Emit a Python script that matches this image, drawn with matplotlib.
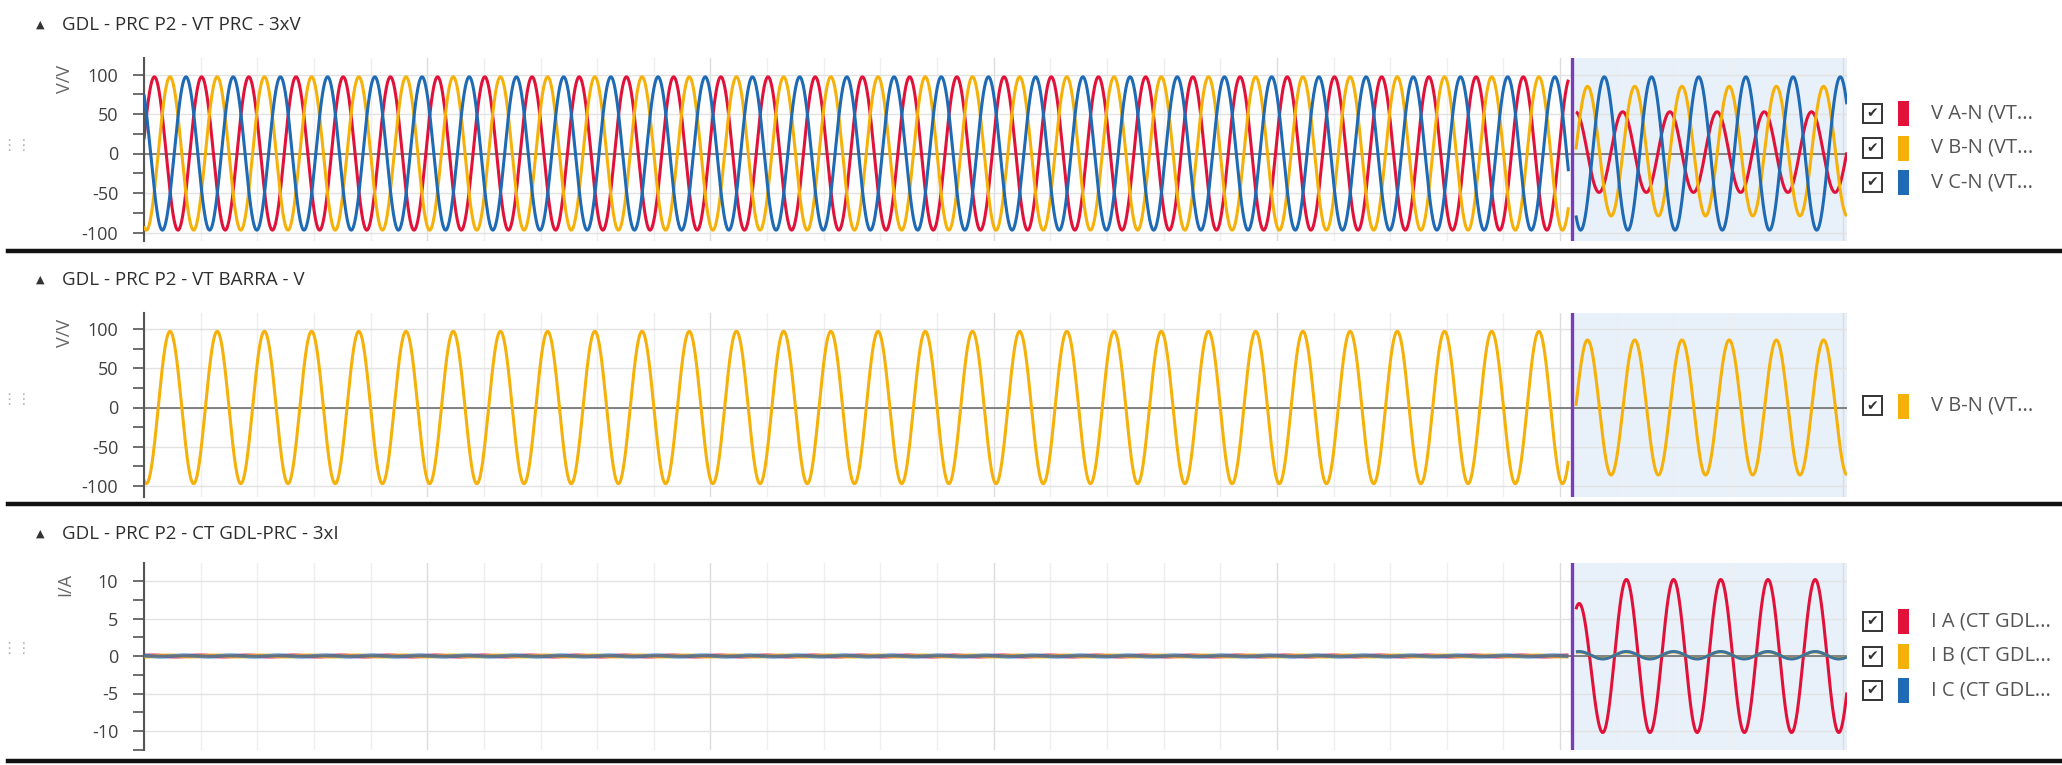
import numpy as np
import matplotlib
matplotlib.use("Agg")
import matplotlib.pyplot as plt
from matplotlib.patches import Rectangle
from matplotlib.lines import Line2D

# ---------------- data ----------------
freq_hz = 60.0
t_start_ms = 0.0
t_end_ms = 601.3
event_ms = 504.2          # purple cursor / start of highlighted window
pre_end_ms = 503.0        # last pre-event sample shown
post_start_ms = 505.6     # first post-event sample shown

panel_titles = ["GDL - PRC P2 - VT PRC - 3xV",
                "GDL - PRC P2 - VT BARRA - V",
                "GDL - PRC P2 - CT GDL-PRC - 3xI"]
panel_units = ["V/V", "V/V", "I/A"]
panel_ticks = [[-100, -50, 0, 50, 100], [-100, -50, 0, 50, 100], [-10, -5, 0, 5, 10]]
panel_minor_step = [25, 25, 2.5]
panel_ylim = [(-110.8, 120.3), (-114.6, 120.5), (-12.5, 12.4)]

# panel 1: three phase voltages
p1_labels = ["V A-N (VT...", "V B-N (VT...", "V C-N (VT..."]
p1_pre_amp = [97.0, 97.0, 97.0]
p1_pre_peak_ms = [3.67, 9.18, 14.83]
p1_pre_offset = [0.0, 0.0, 0.0]
p1_post_amp = [51.0, 82.0, 97.0]
p1_post_peak_ms = [522.1, 509.7, 515.6]
p1_post_offset = [1.8, 3.0, 0.0]
p1_first_peak = [None, None, None]

# panel 2: bus voltage
p2_labels = ["V B-N (VT..."]
p2_pre_amp = [97.0]
p2_pre_peak_ms = [9.18]
p2_pre_offset = [0.0]
p2_post_amp = [86.0]
p2_post_peak_ms = [509.7]
p2_post_offset = [0.0]
p2_first_peak = [None]

# panel 3: phase currents
p3_labels = ["I A (CT GDL...", "I B (CT GDL...", "I C (CT GDL..."]
p3_pre_amp = [0.10, 0.10, 0.10]
p3_pre_peak_ms = [3.0, 8.5, 14.0]
p3_pre_offset = [0.0, 0.0, 0.0]
p3_post_amp = [10.2, 0.45, 0.50]
p3_post_peak_ms = [523.4, 523.4, 523.4]
p3_post_offset = [0.0, 0.1, 0.1]
p3_first_peak = [7.0, None, None]     # reduced first half-cycle of I A

phase_colors = ["#E0123A", "#F5B10A", "#1E6AB4"]

# ---------------- styling / layout ----------------
W, H = 2062, 765
DPI = 100
FONT = "Open Sans"
plt.rcParams['font.family'] = [FONT, 'DejaVu Sans']

def fx(px):
    return px / W

def fy(py):
    return 1 - py / H

fig = plt.figure(figsize=(W / DPI, H / DPI), dpi=DPI)
fig.patch.set_facecolor("white")

ax_left, ax_right = 144, 1847
panel_zero_px = [153.5, 407.5, 656.0]
panel_scale = [0.79, 0.785, 7.5]       # px per unit
legend_centre_px = [148.0, 406.0, 656.0]
title_y = [25, 280, 534]
sep_y = [250.5, 504.0, 760.5]

period_ms = 1000.0 / freq_hz

def wave(t, amp, tpk, off, first_peak=None):
    y = amp * np.cos(2 * np.pi * freq_hz * (t - tpk) / 1000.0) + off
    if first_peak is not None:
        first_trough = tpk - period_ms / 2.0
        m = t < first_trough
        mid = (first_peak - amp) / 2.0 + off
        half = (first_peak + amp) / 2.0
        y[m] = mid + half * np.cos(2 * np.pi * freq_hz * (t[m] - tpk) / 1000.0)
    return y

t_pre = np.arange(t_start_ms, pre_end_ms, 0.05)
t_post = np.arange(post_start_ms, t_end_ms, 0.05)

panels = [
    (p1_labels, p1_pre_amp, p1_pre_peak_ms, p1_pre_offset, p1_post_amp, p1_post_peak_ms, p1_post_offset, p1_first_peak, phase_colors),
    (p2_labels, p2_pre_amp, p2_pre_peak_ms, p2_pre_offset, p2_post_amp, p2_post_peak_ms, p2_post_offset, p2_first_peak, [phase_colors[1]]),
    (p3_labels, p3_pre_amp, p3_pre_peak_ms, p3_pre_offset, p3_post_amp, p3_post_peak_ms, p3_post_offset, p3_first_peak, phase_colors),
]

for i, (labels, pa, pp, po, qa, qp, qo, fp, cols) in enumerate(panels):
    y0, y1 = panel_ylim[i]
    top_px = panel_zero_px[i] - y1 * panel_scale[i]
    bot_px = panel_zero_px[i] - y0 * panel_scale[i]
    ax = fig.add_axes([fx(ax_left), fy(bot_px), fx(ax_right - ax_left), (bot_px - top_px) / H])
    ax.set_xlim(t_start_ms, t_end_ms)
    ax.set_ylim(y0, y1)
    ax.set_facecolor("white")
    ax.set_axisbelow(True)

    ax.axvspan(event_ms, t_end_ms, color="#E8F0FA", zorder=0.2, lw=0)

    ax.set_xticks(np.arange(0, 601, 100))
    ax.set_xticks(np.arange(0, 601, 20), minor=True)
    ax.set_yticks(panel_ticks[i])
    step = panel_minor_step[i]
    ax.set_yticks(np.arange(np.ceil(y0 / step) * step, y1, step), minor=True)
    ax.set_yticklabels([str(v) for v in panel_ticks[i]])
    ax.grid(which="major", axis="x", color="#dcdcdc", lw=1.0)
    ax.grid(which="minor", axis="x", color="#efefef", lw=1.0)
    ax.grid(which="major", axis="y", color="#e2e2e2", lw=1.0)
    ax.tick_params(axis="x", which="both", length=0, labelbottom=False)
    ax.tick_params(axis="y", which="both", direction="out", length=8, width=1.2,
                   color="#555555", labelsize=13, labelcolor="#404040", pad=10.5)
    for s in ["top", "right", "bottom"]:
        ax.spines[s].set_visible(False)
    ax.spines["left"].set_color("#555555")
    ax.spines["left"].set_linewidth(1.5)

    ax.axhline(0, color="#6e6e6e", lw=1.2, zorder=1.5)

    for k in range(len(labels)):
        pre_alpha = 0.65 if i == 2 else 1.0
        post_alpha = 0.85 if (i == 2 and k == 2) else 1.0
        pre_lw = 2.8 if i == 2 else 2.2
        ax.plot(t_pre, wave(t_pre, pa[k], pp[k], po[k]), color=cols[k], lw=pre_lw,
                alpha=pre_alpha, zorder=2 + k, solid_capstyle="butt")
        ax.plot(t_post, wave(t_post, qa[k], qp[k], qo[k], fp[k]), color=cols[k], lw=2.2,
                alpha=post_alpha, zorder=2 + k, solid_capstyle="butt")

    ax.axvline(event_ms, color="#7A3DB8", lw=2.4, zorder=10)

    # unit label
    top_tick_px = panel_zero_px[i] - panel_ticks[i][-1] * panel_scale[i]
    fig.text(fx(65), fy(top_tick_px + 4), panel_units[i], rotation=90,
             ha="center", va="center", fontsize=13, color="#666666")

    # title
    fig.text(fx(40), fy(title_y[i]), "\u25B2", family="DejaVu Sans", ha="center",
             va="center", fontsize=8, color="#333333")
    fig.text(fx(62), fy(title_y[i]), panel_titles[i], ha="left", va="center",
             fontsize=13.5, color="#2e2e2e")

    # grip dots
    fig.text(fx(16), fy(panel_zero_px[i] - 8), "\u22EE\u22EE", family="DejaVu Sans",
             ha="center", va="center", fontsize=11, color="#b5b5b5")

    # legend (checkbox + colour swatch + label)
    n = len(labels)
    row_gap = 34.5
    centre = legend_centre_px[i]
    for k in range(n):
        ry = centre + (k - (n - 1) / 2.0) * row_gap
        fig.add_artist(Rectangle((fx(1863), fy(ry + 9.5)), fx(19), 19 / H,
                                 facecolor="white", edgecolor="#333333", lw=1.4))
        fig.text(fx(1872.5), fy(ry), "\u2714", family="DejaVu Sans", ha="center",
                 va="center", fontsize=10, color="#333333")
        fig.add_artist(Rectangle((fx(1898), fy(ry + 12.5)), fx(11), 25 / H,
                                 facecolor=cols[k], edgecolor="none"))
        fig.text(fx(1931), fy(ry), labels[k], ha="left", va="center",
                 fontsize=14.5, color="#555555")

for y in sep_y:
    fig.add_artist(Line2D([fx(8), fx(2062)], [fy(y), fy(y)], color="#111111", lw=3.2))

fig.savefig("out.png", dpi=DPI, facecolor="white")
